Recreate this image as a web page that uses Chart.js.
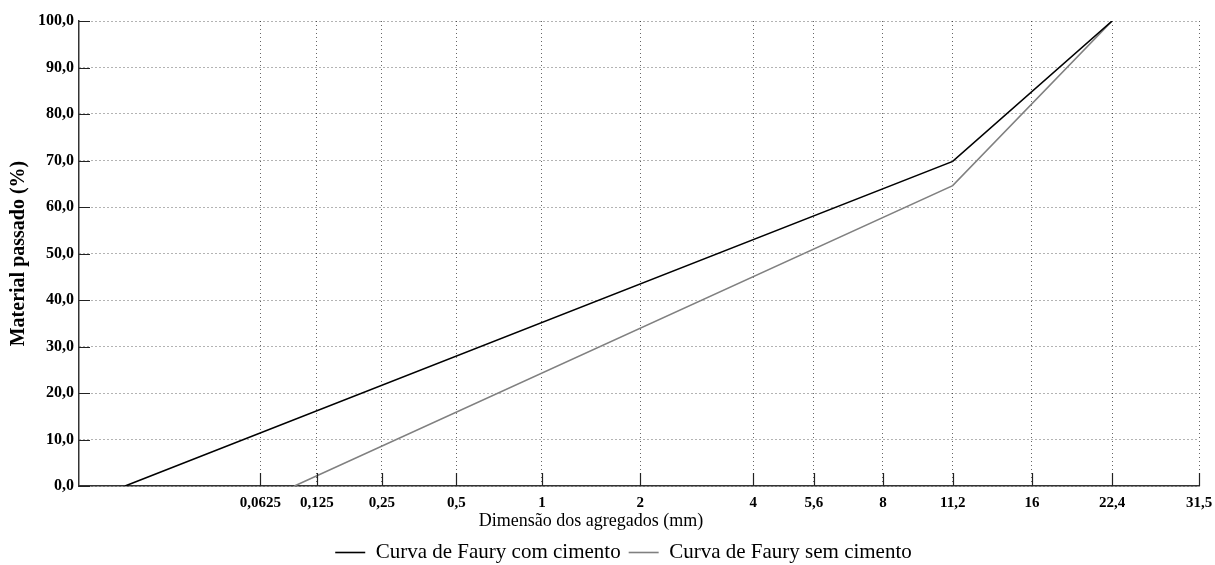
<!DOCTYPE html>
<html>
<head>
<meta charset="utf-8">
<script src="https://cdn.jsdelivr.net/npm/chart.js@4"></script>
<style>
  html, body { margin: 0; padding: 0; background: #fff; }
  #wrap { width: 1215px; height: 565px; position: relative; }
</style>
</head>
<body>
<div id="wrap"><canvas id="chart"></canvas></div>
<script>
// Curvas de Faury – abcissa em d^(1/5)

const sieveSizes  = [0.0625, 0.125, 0.25, 0.5, 1, 2, 4, 5.6, 8, 11.2, 16, 22.4, 31.5];
const sieveLabels = ["0,0625", "0,125", "0,25", "0,5", "1", "2", "4", "5,6", "8", "11,2", "16", "22,4", "31,5"];
const yTicks      = [0, 10, 20, 30, 40, 50, 60, 70, 80, 90, 100];

const comCimentoX = [0.0069, 11.2, 22.4];
const comCimentoY = [0, 69.8, 100];
const semCimentoX = [0.096, 11.2, 22.4];
const semCimentoY = [0, 64.6, 100];

const root5 = d => Math.pow(d, 0.2);
const toPoints = (xs, ys) => xs.map((x, i) => ({ x: root5(x), y: ys[i] }));

const SERIF = "'Liberation Serif', 'Times New Roman', serif";
const gridColor = "rgba(0,0,0,0.6)";

/* ──────────────────────────────────────────────────────────────
   Nudge the legend to where the original sits
   ────────────────────────────────────────────────────────────── */
const legendNudge = {
  id: "legendNudge",
  afterLayout(chart) {
    const lg = chart.legend;
    if (!lg) return;
    const dx = 24, dy = 8;
    lg.left += dx; lg.right += dx;
    lg.top += dy;  lg.bottom += dy;
  },
};

/* ──────────────────────────────────────────────────────────────
   Inside tick marks + x axis title
   ────────────────────────────────────────────────────────────── */
const insideTicks = {
  id: "insideTicks",
  afterDraw(chart) {
    const { ctx, chartArea: a, scales: { x, y } } = chart;
    ctx.save();
    ctx.strokeStyle = "#222";
    ctx.lineWidth = 1.2;
    ctx.beginPath();
    yTicks.forEach(v => {
      const py = Math.round(y.getPixelForValue(v)) + 0.5;
      ctx.moveTo(a.left, py);
      ctx.lineTo(a.left + 11, py);
    });
    sieveSizes.forEach(d => {
      const px = Math.round(x.getPixelForValue(root5(d))) + 0.5;
      ctx.moveTo(px, a.bottom);
      ctx.lineTo(px, a.bottom - 13);
    });
    ctx.stroke();

    ctx.fillStyle = "#000";
    ctx.font = "18px " + SERIF;
    ctx.textAlign = "center";
    ctx.textBaseline = "middle";
    ctx.fillText("Dimensão dos agregados (mm)", 591, a.bottom + 35);
    ctx.restore();
  },
};

new Chart(document.getElementById("chart"), {
  type: "line",
  data: {
    datasets: [
      {
        label: "Curva de Faury com cimento",
        data: toPoints(comCimentoX, comCimentoY),
        borderColor: "#000000",
        backgroundColor: "#000000",
        borderWidth: 1.6,
        pointRadius: 0,
        tension: 0,
      },
      {
        label: "Curva de Faury sem cimento",
        data: toPoints(semCimentoX, semCimentoY),
        borderColor: "#808080",
        backgroundColor: "#808080",
        borderWidth: 1.6,
        pointRadius: 0,
        tension: 0,
      },
    ],
  },
  options: {
    responsive: true, maintainAspectRatio: false,
    animation: false,
    parsing: false,
    layout: { padding: { left: 0, right: 16, top: 21, bottom: 0 } },
    plugins: {
      legend: {
        position: "bottom",
        labels: {
          color: "#000",
          font: { size: 21, family: SERIF },
          usePointStyle: true,
          pointStyle: "line",
          pointStyleWidth: 30,
          boxHeight: 21,
          padding: 8,
        },
      },
      tooltip: { enabled: false },
    },
    scales: {
      x: {
        type: "linear",
        min: 0.3,
        max: root5(31.5),
        afterBuildTicks: s => { s.ticks = sieveSizes.map(d => ({ value: root5(d) })); },
        afterFit: s => { s.height = 40; s.paddingRight = 0; s.paddingLeft = 0; },
        ticks: {
          autoSkip: false, maxRotation: 0, padding: 8,
          color: "#000",
          font: { size: 15, weight: "bold", family: SERIF },
          callback: (v, i) => sieveLabels[i],
        },
        grid: { color: gridColor, lineWidth: 1, drawTicks: false },
        border: { display: true, color: "#333", width: 1.5, dash: [1, 3] },
      },
      y: {
        min: 0, max: 100,
        afterBuildTicks: s => { s.ticks = yTicks.map(v => ({ value: v })); },
        afterFit: s => { s.width = 79; },
        ticks: {
          padding: 5,
          color: "#000",
          font: { size: 16, weight: "bold", family: SERIF },
          callback: v => v.toFixed(1).replace(".", ","),
        },
        title: {
          display: true,
          text: "Material passado (%)",
          color: "#000",
          font: { size: 20, weight: "bold", family: SERIF },
          padding: { top: 7, bottom: 0 },
        },
        grid: { color: gridColor, lineWidth: 1, drawTicks: false },
        border: { display: true, color: "#333", width: 1.5, dash: [1, 3] },
      },
    },
  },
  plugins: [legendNudge, insideTicks],
});
</script>
</body>
</html>
